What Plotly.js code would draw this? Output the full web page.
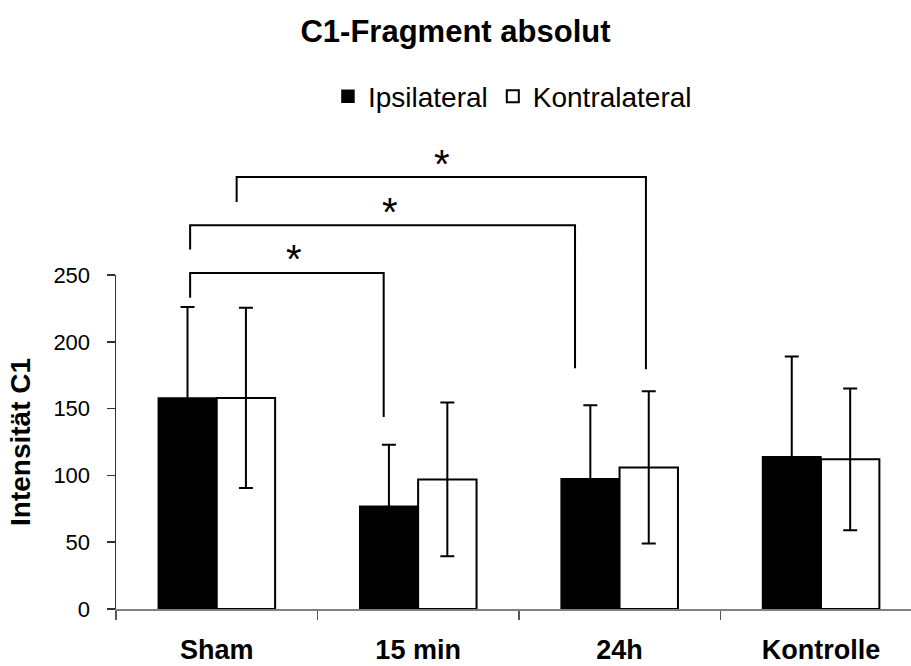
<!DOCTYPE html>
<html>
<head>
<meta charset="utf-8">
<script src="https://cdn.plot.ly/plotly-3.0.1.min.js"></script>
<style>
  html, body { margin: 0; padding: 0; background: #fff; }
  #chart { width: 911px; height: 666px; }
</style>
</head>
<body>
<div id="chart"></div>
<script>
// Groups and measured intensities (mean and error)
const categories = ['Sham', '15 min', '24h', 'Kontrolle'];
const ipsilateral = [158, 77, 97.5, 114];
const ipsilateralErr = [68, 46, 55, 75];
const kontralateral = [158, 97, 106, 112];
const kontralateralErr = [67.5, 57.5, 57, 53];
const yTicks = [0, 50, 100, 150, 200, 250];

// Significance brackets (x in category units, y in intensity units)
const bracketLeftX = [-0.132, -0.132, 0.099];
const bracketRightX = [0.829, 1.779, 2.131];
const bracketTopY = [251.5, 287.2, 323.4];
const bracketLeftEndY = [233, 269, 304.6];
const bracketRightEndY = [143.7, 180.2, 179.4];
const starX = [0.382, 0.859, 1.119];
const starY = [262, 297, 333];
const starText = ['*', '*', '*'];

const FONT = 'Arial, "Liberation Sans", Helvetica, sans-serif';
const yMax = yTicks[yTicks.length - 1];
// the value axis spans the full plot height, so an intensity maps linearly to paper height
const toPaperY = v => v / yMax;

const traces = [
  {
    type: 'bar', name: 'Ipsilateral', x: categories, y: ipsilateral,
    marker: { color: '#000000', line: { color: '#000000', width: 1.5 } },
    error_y: { type: 'data', array: ipsilateralErr, visible: true, color: '#000000', thickness: 2, width: 7 }
  },
  {
    type: 'bar', name: 'Kontralateral', x: categories, y: kontralateral,
    marker: { color: '#ffffff', line: { color: '#000000', width: 2 } },
    error_y: { type: 'data', array: kontralateralErr, visible: true, color: '#000000', thickness: 2, width: 7 }
  }
];

const shapes = [];
for (let i = 0; i < bracketTopY.length; i++) {
  shapes.push({
    type: 'path', xref: 'x', yref: 'paper',
    path: 'M ' + bracketLeftX[i] + ',' + toPaperY(bracketLeftEndY[i]) +
          ' L ' + bracketLeftX[i] + ',' + toPaperY(bracketTopY[i]) +
          ' L ' + bracketRightX[i] + ',' + toPaperY(bracketTopY[i]) +
          ' L ' + bracketRightX[i] + ',' + toPaperY(bracketRightEndY[i]),
    line: { color: '#000000', width: 2 }
  });
}

const annotations = starX.map((x, i) => ({
  x: x, y: toPaperY(starY[i]), xref: 'x', yref: 'paper', text: starText[i], showarrow: false,
  font: { family: FONT, size: 40, color: '#000000' }, yanchor: 'middle'
}));

const layout = {
  width: 911, height: 666,
  paper_bgcolor: '#ffffff', plot_bgcolor: '#ffffff',
  margin: { l: 116, r: 0, t: 274.7, b: 57.3, pad: 0 },
  font: { family: FONT, color: '#000000' },
  title: {
    text: 'C1-Fragment absolut',
    font: { family: FONT, size: 31, weight: 'bold', color: '#000000' },
    x: 0.5, xanchor: 'center', xref: 'container',
    y: 0.953, yanchor: 'middle', yref: 'container'
  },
  showlegend: true,
  legend: {
    orientation: 'h', xref: 'container', yref: 'container',
    x: 0.36, xanchor: 'left', y: 0.855, yanchor: 'middle',
    font: { family: FONT, size: 28, color: '#000000' },
    bgcolor: 'rgba(0,0,0,0)', borderwidth: 0, traceorder: 'normal'
  },
  barmode: 'group', bargap: 0.42, bargroupgap: 0,
  xaxis: {
    type: 'category', range: [-0.5, 3.447], automargin: false,
    showgrid: false, zeroline: false,
    showline: true, linecolor: '#808080', linewidth: 2,
    ticks: 'outside', tickson: 'boundaries', ticklen: 9, tickwidth: 1.5, tickcolor: '#555555',
    ticklabelstandoff: 16,
    tickfont: { family: FONT, size: 27, weight: 'bold', color: '#000000' },
    fixedrange: true
  },
  yaxis: {
    range: [0, yMax], automargin: false,
    showgrid: false, zeroline: false,
    showline: true, linecolor: '#333333', linewidth: 1.5,
    tickmode: 'array', tickvals: yTicks, ticktext: yTicks.map(String),
    ticks: 'outside', ticklen: 8, tickwidth: 1.5, tickcolor: '#333333',
    ticklabelstandoff: 12,
    tickfont: { family: FONT, size: 22, color: '#000000' },
    title: { text: 'Intensität C1', standoff: 14,
             font: { family: FONT, size: 28, weight: 'bold', color: '#000000' } },
    fixedrange: true
  },
  shapes: shapes,
  annotations: annotations
};

Plotly.newPlot('chart', traces, layout, { displayModeBar: false, staticPlot: true });
</script>
</body>
</html>
